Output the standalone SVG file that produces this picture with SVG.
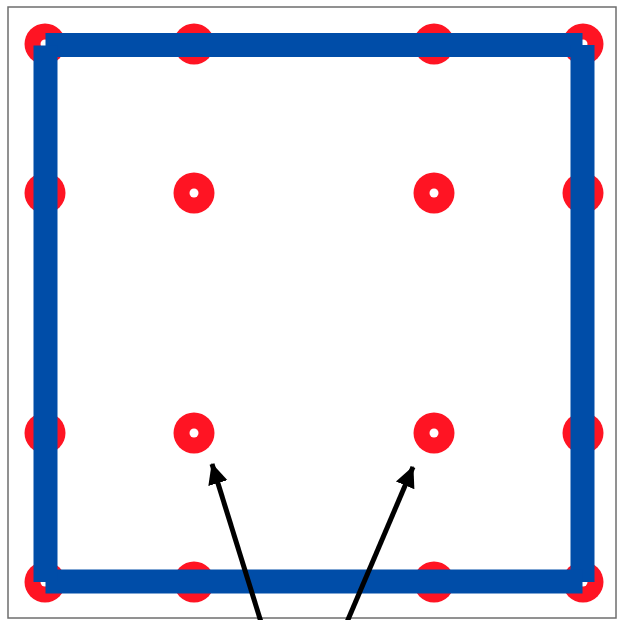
<svg xmlns="http://www.w3.org/2000/svg" width="618" height="620" viewBox="0 0 618 620">
<style>
.dot{fill:#FF1423}
.hole{fill:#FFFFFF}
.bar{stroke:#004DA8;stroke-width:24;stroke-linecap:butt;fill:none}
.arrow{stroke:#000000;stroke-width:5;fill:none}
</style>
<defs>
<marker id="ah" markerUnits="userSpaceOnUse" markerWidth="24" markerHeight="24" viewBox="0 0 24 24" refX="20" refY="12" orient="auto">
<path d="M0,2 L21,12 L0,22 Z" fill="#000000"/>
</marker>
</defs>
<rect x="0" y="0" width="618" height="620" fill="#FFFFFF"/>
<rect id="frame" x="8" y="7" width="608" height="611" fill="none" stroke="#6E6E6E" stroke-width="1.5"/>
<g id="dots">
<g id="d11"><circle class="dot" cx="45" cy="44" r="20.5"/><circle class="hole" cx="45" cy="44" r="4.5"/></g>
<g id="d12"><circle class="dot" cx="194" cy="44" r="20.5"/><circle class="hole" cx="194" cy="44" r="4.5"/></g>
<g id="d13"><circle class="dot" cx="434" cy="44" r="20.5"/><circle class="hole" cx="434" cy="44" r="4.5"/></g>
<g id="d14"><circle class="dot" cx="583" cy="44" r="20.5"/><circle class="hole" cx="583" cy="44" r="4.5"/></g>
<g id="d21"><circle class="dot" cx="45" cy="193" r="20.5"/><circle class="hole" cx="45" cy="193" r="4.5"/></g>
<g id="d22"><circle class="dot" cx="194" cy="193" r="20.5"/><circle class="hole" cx="194" cy="193" r="4.5"/></g>
<g id="d23"><circle class="dot" cx="434" cy="193" r="20.5"/><circle class="hole" cx="434" cy="193" r="4.5"/></g>
<g id="d24"><circle class="dot" cx="583" cy="193" r="20.5"/><circle class="hole" cx="583" cy="193" r="4.5"/></g>
<g id="d31"><circle class="dot" cx="45" cy="433" r="20.5"/><circle class="hole" cx="45" cy="433" r="4.5"/></g>
<g id="d32"><circle class="dot" cx="194" cy="433" r="20.5"/><circle class="hole" cx="194" cy="433" r="4.5"/></g>
<g id="d33"><circle class="dot" cx="434" cy="433" r="20.5"/><circle class="hole" cx="434" cy="433" r="4.5"/></g>
<g id="d34"><circle class="dot" cx="583" cy="433" r="20.5"/><circle class="hole" cx="583" cy="433" r="4.5"/></g>
<g id="d41"><circle class="dot" cx="45" cy="582" r="20.5"/><circle class="hole" cx="45" cy="582" r="4.5"/></g>
<g id="d42"><circle class="dot" cx="194" cy="582" r="20.5"/><circle class="hole" cx="194" cy="582" r="4.5"/></g>
<g id="d43"><circle class="dot" cx="434" cy="582" r="20.5"/><circle class="hole" cx="434" cy="582" r="4.5"/></g>
<g id="d44"><circle class="dot" cx="583" cy="582" r="20.5"/><circle class="hole" cx="583" cy="582" r="4.5"/></g>
</g>
<g id="square">
<line class="bar" x1="45.5" y1="45" x2="582.5" y2="45"/>
<line class="bar" x1="582.5" y1="45" x2="582.5" y2="582"/>
<line class="bar" x1="582.5" y1="581.5" x2="45.5" y2="581.5"/>
<line class="bar" x1="45.5" y1="582" x2="45.5" y2="45.5"/>
</g>
<g id="connectors">
<line class="arrow" x1="261" y1="622" x2="212" y2="464" marker-end="url(#ah)"/>
<line class="arrow" x1="347" y1="622" x2="413" y2="467" marker-end="url(#ah)"/>
</g>
</svg>
